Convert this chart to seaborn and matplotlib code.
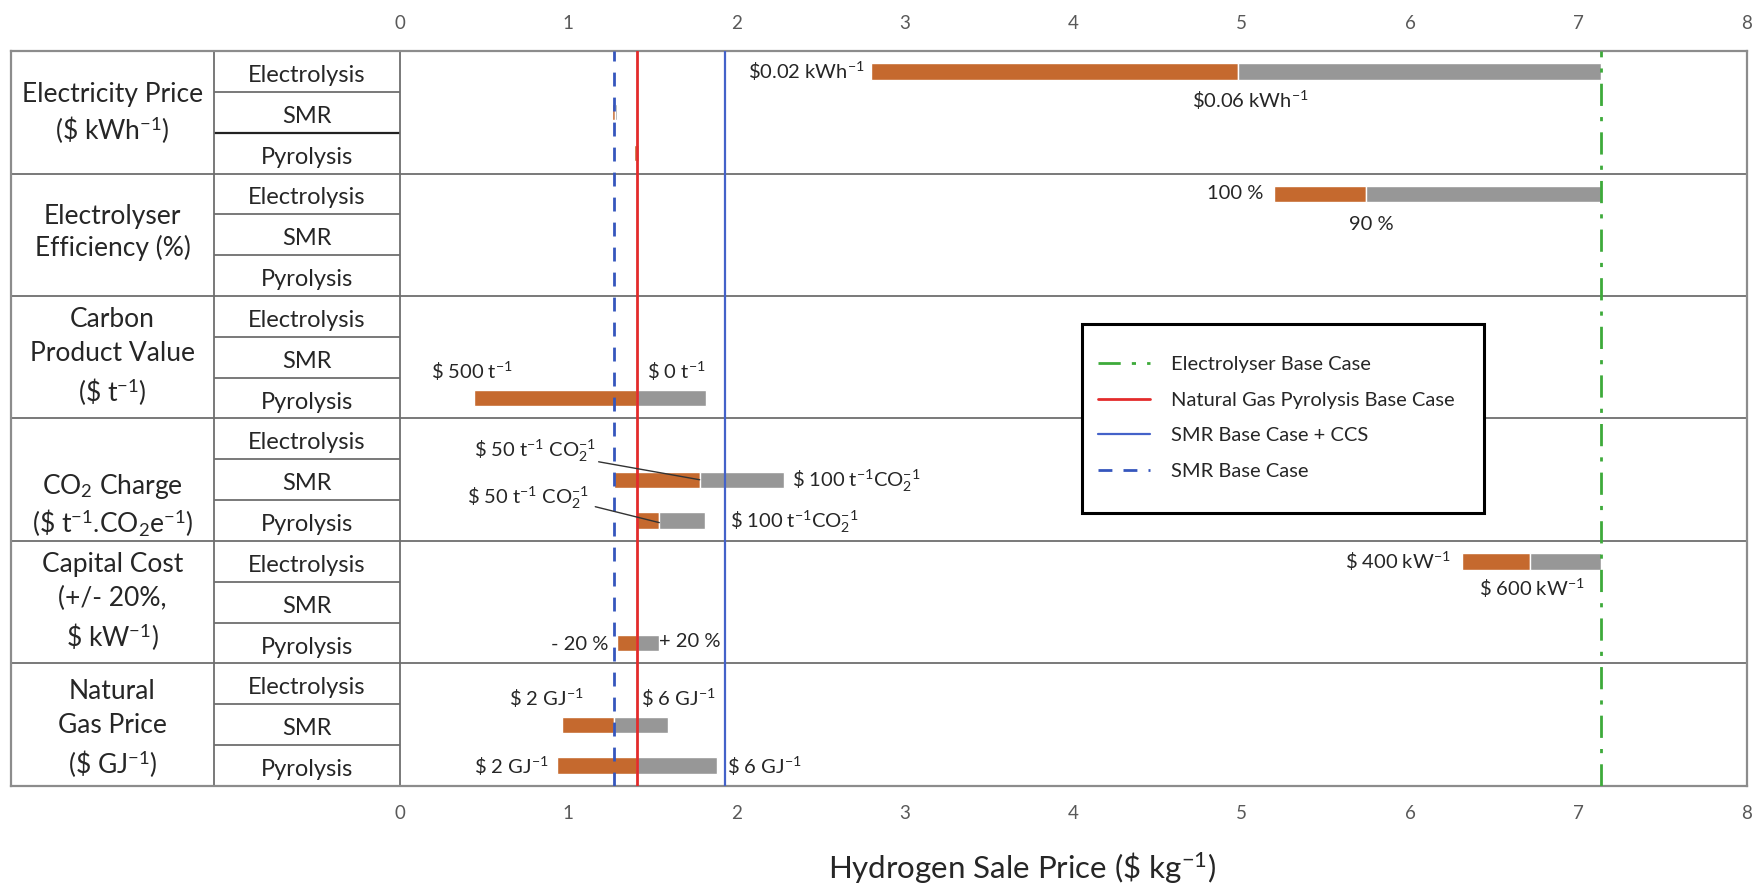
import matplotlib.pyplot as plt
import matplotlib.patches as mpatches
import seaborn as sns

# ---- data ----
group_names = [
    'Electricity Price\n' r'(\$ kWh$^{\mathregular{-1}}$)',
    'Electrolyser\nEfficiency (%)',
    'Carbon\nProduct Value\n' r'(\$ t$^{\mathregular{-1}}$)',
    r'CO$_{\mathregular{2}}$ Charge' '\n'
    r'(\$ t$^{\mathregular{-1}}$.CO$_{\mathregular{2}}$e$^{\mathregular{-1}}$)',
    'Capital Cost\n(+/- 20%,\n' r'\$ kW$^{\mathregular{-1}}$)',
    'Natural\nGas Price\n' r'(\$ GJ$^{\mathregular{-1}}$)',
]
technologies = ['Electrolysis', 'SMR', 'Pyrolysis']

# row index (0 = top) and low / base / high hydrogen price ($/kg)
bar_row = [0, 1, 2, 3, 8, 10, 11, 12, 14, 16, 17]
bar_low = [2.80, 1.26, 1.39, 5.19, 0.44, 1.27, 1.41, 6.31, 1.29, 0.96, 0.93]
bar_mid = [4.98, 1.28, 1.41, 5.74, 1.41, 1.78, 1.54, 6.71, 1.41, 1.27, 1.41]
bar_high = [7.13, 1.29, 1.42, 7.13, 1.82, 2.28, 1.81, 7.13, 1.54, 1.59, 1.885]

base_names = ['Electrolyser Base Case', 'Natural Gas Pyrolysis Base Case',
              'SMR Base Case + CCS', 'SMR Base Case']
base_values = [7.13, 1.41, 1.93, 1.27]

x_ticks = [0, 1, 2, 3, 4, 5, 6, 7, 8]

# ---- style ----
sns.set_theme(style='white')
plt.rcParams['font.family'] = ['Lato', 'DejaVu Sans']
plt.rcParams['mathtext.fontset'] = 'custom'
plt.rcParams['mathtext.rm'] = 'Lato'
plt.rcParams['mathtext.it'] = 'Lato:italic'
plt.rcParams['mathtext.bf'] = 'Lato:bold'

txt = '#262626'
orange = '#C5692E'
grey = '#979797'
grid_c = '#6E6E6E'

fig = plt.figure(figsize=(17.65, 8.86), dpi=100)
ax = fig.add_axes([11 / 1765, 1 - 786 / 886, 1736 / 1765, 735 / 886])

x_left = -(400 - 11) / 168.4
x_cat = -1.105
ax.set_xlim(x_left, 8)
ax.set_ylim(18, 0)

# floating bars: orange low->base, grey base->high
bar_h = 0.4
ax.barh([r + 0.5 for r in bar_row], [m - l for l, m in zip(bar_low, bar_mid)],
        left=bar_low, height=bar_h, color=orange, zorder=2)
ax.barh([r + 0.5 for r in bar_row], [h - m for m, h in zip(bar_mid, bar_high)],
        left=bar_mid, height=bar_h, color=grey, zorder=2)

# table lines
for g in range(1, 6):
    ax.axhline(g * 3, color=grid_c, lw=1.3, zorder=1)
for r in range(18):
    if r % 3 != 0:
        ax.hlines(r, x_cat, 0, color=grid_c, lw=1.3, zorder=1)
ax.hlines(2, x_cat, 0, color='#222222', lw=1.6, zorder=1)
ax.axvline(x_cat, color=grid_c, lw=1.3, zorder=1)
ax.axvline(0, color=grid_c, lw=1.3, zorder=1)

# base case lines
styles = [dict(color='#3DAA3A', lw=2, ls=(0, (8, 4, 1.5, 4))),
          dict(color='#E32B2B', lw=2, ls='-'),
          dict(color='#4462C9', lw=1.6, ls='-'),
          dict(color='#3556BD', lw=2, ls=(0, (5, 4)))]
handles = []
for name, v, st in zip(base_names, base_values, styles):
    handles.append(ax.axvline(v, label=name, zorder=3, **st))

# labels in the table
label_shift = [0.05, -0.05, 0.0, 0.63, 0.0, 0.12]
for g, name in enumerate(group_names):
    n_lines = name.count('\n') + 1
    ax.text((x_left + x_cat) / 2, g * 3 + 1.5 + label_shift[g], name,
            ha='center', va='center', fontsize=19, color=txt,
            linespacing=1.45 if n_lines == 3 else 1.3)
    for k, tech in enumerate(technologies):
        ax.text(x_cat / 2, g * 3 + k + 0.6, tech, ha='center', va='center',
                fontsize=17, color=txt)

# bar annotations
sup = r'$^{\mathregular{-1}}$'
co2 = r'CO$_{\mathregular{2}}^{\mathregular{-1}}$'
notes = [
    (2.76, 0.5, r'\$0.02 kWh' + sup, 'right'),
    (5.05, 1.2, r'\$0.06 kWh' + sup, 'center'),
    (5.13, 3.5, '100 %', 'right'),
    (5.77, 4.25, '90 %', 'center'),
    (0.43, 7.85, r'\$ 500 t' + sup, 'center'),
    (1.64, 7.85, r'\$ 0 t' + sup, 'center'),
    (0.80, 9.8, r'\$ 50 t' + sup + ' ' + co2, 'center'),
    (2.33, 10.53, r'\$ 100 t' + sup + co2, 'left'),
    (0.76, 10.93, r'\$ 50 t' + sup + ' ' + co2, 'center'),
    (1.96, 11.52, r'\$ 100 t' + sup + co2, 'left'),
    (6.24, 12.49, r'\$ 400 kW' + sup, 'right'),
    (6.72, 13.15, r'\$ 600 kW' + sup, 'center'),
    (1.24, 14.53, '- 20 %', 'right'),
    (1.54, 14.47, '+ 20 %', 'left'),
    (0.87, 15.85, r'\$ 2 GJ' + sup, 'center'),
    (1.65, 15.85, r'\$ 6 GJ' + sup, 'center'),
    (0.88, 17.53, r'\$ 2 GJ' + sup, 'right'),
    (1.94, 17.53, r'\$ 6 GJ' + sup, 'left'),
]
for x, y, s, ha in notes:
    ax.text(x, y, s, ha=ha, va='center', fontsize=14.5, color=txt, zorder=4)
for x0, y0, x1, y1 in [(1.18, 10.06, 1.78, 10.5), (1.16, 11.16, 1.54, 11.55)]:
    ax.plot([x0, x1], [y0, y1], color='#333333', lw=1, zorder=4)

# axes
ax.set_xticks(x_ticks)
ax.set_xticklabels([str(t) for t in x_ticks])
ax.set_yticks([])
ax.tick_params(axis='x', top=True, labeltop=True, bottom=True, labelbottom=True,
               length=0, pad=14, labelsize=13.5, labelcolor='#595959')
for sp in ax.spines.values():
    sp.set_color('#8C8C8C')
    sp.set_linewidth(1.6)

ax.set_xlabel(r'Hydrogen Sale Price (\$ kg' + sup + ')', fontsize=22.5, color=txt)
ax.xaxis.set_label_coords((1022 - 11) / 1736, -0.088)

# legend: plain black box with the entries inside
box = mpatches.Rectangle((0.617, 0.3714), 0.2316, 0.2571, transform=ax.transAxes,
                         facecolor='white', edgecolor='black', lw=2.2, zorder=5)
ax.add_patch(box)
leg = ax.legend(handles=handles, loc='upper left', bbox_to_anchor=(0.626, 0.585),
                frameon=False, fontsize=14.5, handlelength=2.6, borderpad=0,
                labelspacing=0.92, handletextpad=1.05, borderaxespad=0)
leg.set_zorder(6)
for t in leg.get_texts():
    t.set_color(txt)

fig.savefig('out.png', dpi=100, facecolor='white')
